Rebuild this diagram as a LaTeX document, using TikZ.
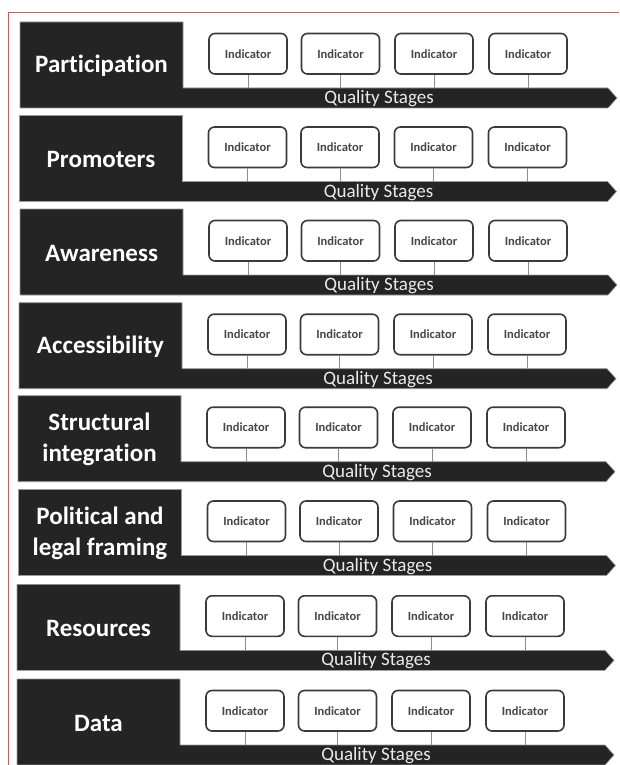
\documentclass[tikz,border=0pt]{standalone}
\usepackage{fontspec}
\setmainfont{Carlito}[Ligatures=NoCommon]
\definecolor{barfill}{HTML}{242424}
\definecolor{baredge}{HTML}{9A9A9A}
\definecolor{boxedge}{HTML}{3A3A3A}
\definecolor{boxtext}{HTML}{474747}
\definecolor{stem}{HTML}{8C8C8C}
\definecolor{framered}{HTML}{D25A5A}
\tikzset{
  dimbar/.style={fill=barfill, draw=baredge, line width=0.6pt},
  dimlabel/.style={text=white, font=\bfseries\fontsize{25}{31}\selectfont, align=center, inner sep=0pt},
  stagetext/.style={text=white!92!black, font=\fontsize{19}{19}\selectfont, inner sep=0pt, anchor=base},
  indbox/.style={draw=boxedge, line width=1.6pt, rounded corners=6pt, fill=white,
    minimum width=78pt, minimum height=40.5pt, inner sep=0pt,
    text=boxtext, font=\bfseries\fontsize{12.5}{12.5}\selectfont},
  indstem/.style={draw=stem, line width=0.9pt},
  frame/.style={draw=framered, line width=1pt}
}
\begin{document}
\begin{tikzpicture}[x=1pt, y=-1pt]
\useasboundingbox (0,0) rectangle (619,765);
\fill[white] (0,0) rectangle (619,765);
% thin red frame along the top and left
\draw[frame] (8,765) -- (8,13) -- (619,13);
% one row per dimension: index / top / horizontal shift / label
\foreach \i/\t/\dx/\lab in {
  1/22/0/Participation,
  2/115.5/-0.5/Promoters,
  3/209/0/Awareness,
  4/302.7/-1/Accessibility,
  5/395.7/-2/Structural\\integration,
  6/489.5/-1.5/Political and\\legal framing,
  7/584.3/-3/Resources,
  8/679/-3/Data} {
  % L-shaped block: label panel joined to the arrow bar
  \draw[dimbar] (20+\dx,\t) -- (183+\dx,\t) -- (183+\dx,\t+66)
    -- (608+\dx,\t+66) -- (617+\dx,\t+76) -- (608+\dx,\t+86)
    -- (20+\dx,\t+86) -- cycle;
  \node[dimlabel] (lab\i) at (101.5+\dx,\t+44) {\lab};
  \coordinate (bar\i) at (380+\dx,\t+66);
  \node[stagetext] (qs\i) at (379+\dx,\t+81.5) {Quality Stages};
  % four indicators hanging from the bar
  \foreach \k/\cx in {1/248,2/340.5,3/434,4/528} {
    \node[indbox] (ind\i-\k) at (\cx+\dx,\t+31.75) {Indicator};
    \coordinate (foot\i-\k) at (ind\i-\k.south |- bar\i);
    \draw[indstem] (ind\i-\k.south) -- (foot\i-\k);
  }
}
\end{tikzpicture}
\end{document}
